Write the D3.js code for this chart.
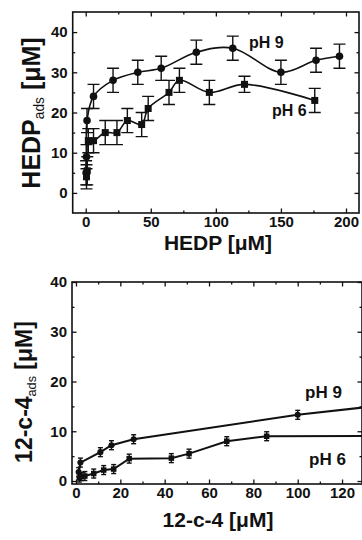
<!DOCTYPE html>
<html>
<head>
<meta charset="utf-8">
<script src="https://cdn.jsdelivr.net/npm/d3@7"></script>
<style>
  body { margin: 0; background: #fff; }
  text { font-family: "Liberation Sans", Arial, sans-serif; font-weight: bold; fill: #111; }
</style>
</head>
<body>
<div id="wrapper"></div>
<script>
// 1. Data

// top panel: HEDP
const hedpX9 = [0.3, 0.6, 1, 6, 21, 40, 58, 85, 113, 150, 177, 195]
const hedpY9 = [5, 9, 18, 24, 28, 30, 31, 35, 36, 30, 33, 34]
const hedpE9 = [3, 3, 3, 3, 3, 3, 3, 3, 3, 3, 3, 3]

const hedpX6 = [0.6, 1.2, 2, 6, 15, 24, 32, 43, 48, 64, 72, 95, 122, 176]
const hedpY6 = [4, 5.5, 13, 13, 15, 15, 18, 17, 21, 25, 28, 25, 27, 23]
const hedpE6 = [3, 3.5, 3, 3, 3, 3, 3, 3, 3, 3, 3, 3, 2, 3]

// bottom panel: 12-c-4
const c4X9 = [1.2, 2, 11, 16, 26, 100, 150]
const c4Y9 = [1.8, 3.7, 5.8, 7.2, 8.4, 13.3, 15.8]
const c4E9 = [0.9, 0.9, 0.9, 0.9, 0.9, 0.9, 0.9]

const c4X6 = [1.5, 2.5, 4, 8, 12.5, 17, 24, 43, 51, 68, 86, 150]
const c4Y6 = [0.6, 0.9, 1.0, 1.5, 2.2, 2.4, 4.5, 4.6, 5.5, 8.0, 9.0, 9.1]
const c4E6 = [0.8, 0.8, 0.9, 0.9, 0.9, 0.9, 0.9, 0.9, 0.9, 0.9, 0.9, 0.9]

const hedpXTicks = [0, 50, 100, 150, 200]
const hedpYTicks = [0, 10, 20, 30, 40]
const c4XTicks = [0, 20, 40, 60, 80, 100, 120]
const c4YTicks = [0, 10, 20, 30, 40]

const zip = (xs, ys, es) => xs.map((x, i) => ({ x: x, y: ys[i], e: es[i] }))

// 2. Canvas
const wrapper = d3.select("#wrapper")
  .append("svg")
    .attr("width", 362)
    .attr("height", 540)

const minorOf = (major) => {
  const step = major[1] - major[0]
  return major.map(v => v + step / 2)
}

function drawPanel(p) {
  const xScale = d3.scaleLinear().domain(p.xDomain).range([p.left, p.right])
  const yScale = d3.scaleLinear().domain(p.yDomain).range([p.bottom, p.top])

  const bounds = wrapper.append("g")

  const clipId = "clip" + p.id
  bounds.append("clipPath").attr("id", clipId)
    .append("rect")
      .attr("x", p.left).attr("y", p.top)
      .attr("width", p.right - p.left).attr("height", p.bottom - p.top)

  // 3. Axes, ticks inward on all four sides
  const minorX = minorOf(p.xTicks).filter(v => v < p.xDomain[1])
  const minorY = minorOf(p.yTicks).filter(v => v < p.yDomain[1])
  const major = 4.5, minor = 2.5

  const addAxis = (gen, transform, values, size, labels) => {
    const g = bounds.append("g")
      .attr("transform", transform)
      .call(gen.tickValues(values).tickSize(-size).tickPadding(labels ? 4 : 0)
        .tickFormat(labels ? d3.format("d") : ""))
    g.select(".domain").remove()
    g.selectAll("line").attr("stroke", "#111").attr("stroke-width", 1.3)
    g.selectAll("text").style("font-size", "15px")
    return g
  }

  const xb = addAxis(d3.axisBottom(xScale), `translate(0,${p.bottom})`, p.xTicks, major, true)
  xb.selectAll("text").attr("dy", "0.75em").attr("y", p.xLabelPad)
  addAxis(d3.axisBottom(xScale), `translate(0,${p.bottom})`, minorX, minor, false)
  addAxis(d3.axisTop(xScale), `translate(0,${p.top})`, p.xTicks, major, false)
  addAxis(d3.axisTop(xScale), `translate(0,${p.top})`, minorX, minor, false)

  const yl = addAxis(d3.axisLeft(yScale), `translate(${p.left},0)`, p.yTicks, major, true)
  yl.selectAll("text").attr("x", -5)
  addAxis(d3.axisLeft(yScale), `translate(${p.left},0)`, minorY, minor, false)
  addAxis(d3.axisRight(yScale), `translate(${p.right},0)`, p.yTicks, major, false)
  addAxis(d3.axisRight(yScale), `translate(${p.right},0)`, minorY, minor, false)

  bounds.append("rect")
    .attr("x", p.left).attr("y", p.top)
    .attr("width", p.right - p.left).attr("height", p.bottom - p.top)
    .attr("fill", "none")
    .attr("stroke", "#111")
    .attr("stroke-width", 1.6)

  // 4. Data
  const plot = bounds.append("g").attr("clip-path", `url(#${clipId})`)

  p.series.forEach(s => {
    const lineGen = d3.line()
      .x(d => xScale(d.x))
      .y(d => yScale(d.y))
      .curve(p.curve)

    plot.append("path")
      .datum(s.data)
      .attr("d", lineGen)
      .attr("fill", "none")
      .attr("stroke", "#111")
      .attr("stroke-width", p.lineWidth)

    const bars = plot.append("g").selectAll("g")
      .data(s.data)
      .enter().append("g")
        .attr("stroke", "#111")
        .attr("stroke-width", 1.4)

    bars.append("line")
      .attr("x1", d => xScale(d.x)).attr("x2", d => xScale(d.x))
      .attr("y1", d => yScale(d.y - d.e)).attr("y2", d => yScale(d.y + d.e))
    ;[-1, 1].forEach(sign => {
      bars.append("line")
        .attr("x1", d => xScale(d.x) - p.cap).attr("x2", d => xScale(d.x) + p.cap)
        .attr("y1", d => yScale(d.y + sign * d.e)).attr("y2", d => yScale(d.y + sign * d.e))
    })

    if (s.shape === "circle") {
      plot.append("g").selectAll("circle")
        .data(s.data)
        .enter().append("circle")
          .attr("cx", d => xScale(d.x))
          .attr("cy", d => yScale(d.y))
          .attr("r", p.marker / 2 + 0.3)
          .attr("fill", "#111")
    } else {
      plot.append("g").selectAll("rect")
        .data(s.data)
        .enter().append("rect")
          .attr("x", d => xScale(d.x) - p.marker / 2)
          .attr("y", d => yScale(d.y) - p.marker / 2)
          .attr("width", p.marker)
          .attr("height", p.marker)
          .attr("fill", "#111")
    }
  })

  // 5. Peripherals
  p.labels.forEach(l => {
    bounds.append("text")
      .attr("x", l.x).attr("y", l.y)
      .style("font-size", l.size + "px")
      .text(l.text)
  })

  bounds.append("text")
    .attr("x", p.xTitle.x).attr("y", p.xTitle.y)
    .attr("text-anchor", "middle")
    .style("font-size", "21px")
    .text(p.xTitle.text)

  const yTitle = bounds.append("text")
    .attr("transform", `translate(${p.yTitle.x},${p.yTitle.y}) rotate(-90)`)
    .attr("text-anchor", "middle")
    .style("font-size", p.yTitle.size + "px")
  yTitle.append("tspan").text(p.yTitle.main)
  yTitle.append("tspan").text("ads")
    .attr("dy", "0.3em")
    .style("font-size", (p.yTitle.size * 0.55) + "px")
    .style("font-weight", "normal")
  yTitle.append("tspan").text(" [μM]")
    .attr("dy", "-0.17em")
}

drawPanel({
  id: "top",
  left: 72.7, right: 359, top: 12, bottom: 213,
  xDomain: [-10, 210], yDomain: [-5, 45],
  xTicks: hedpXTicks, yTicks: hedpYTicks,
  xLabelPad: 3,
  curve: d3.curveCatmullRom.alpha(0.5),
  lineWidth: 1.6, marker: 7, cap: 6,
  series: [
    { shape: "circle", data: zip(hedpX9, hedpY9, hedpE9) },
    { shape: "square", data: zip(hedpX6, hedpY6, hedpE6) }
  ],
  labels: [
    { text: "pH 9", x: 249, y: 48, size: 16 },
    { text: "pH 6", x: 272, y: 116, size: 16 }
  ],
  xTitle: { text: "HEDP [μM]", x: 218, y: 250 },
  yTitle: { main: "HEDP", x: 40, y: 113, size: 25 }
})

drawPanel({
  id: "bottom",
  left: 72, right: 362, top: 282, bottom: 484,
  xDomain: [-1.8, 129], yDomain: [-0.6, 40],
  xTicks: c4XTicks, yTicks: c4YTicks,
  xLabelPad: 3,
  curve: d3.curveLinear,
  lineWidth: 2, marker: 5.5, cap: 2.5,
  series: [
    { shape: "circle", data: zip(c4X9, c4Y9, c4E9) },
    { shape: "square", data: zip(c4X6, c4Y6, c4E6) }
  ],
  labels: [
    { text: "pH 9", x: 305, y: 398, size: 17 },
    { text: "pH 6", x: 309, y: 465, size: 17 }
  ],
  xTitle: { text: "12-c-4 [μM]", x: 218, y: 527 },
  yTitle: { main: "12-c-4", x: 32, y: 392, size: 23 }
})
</script>
</body>
</html>
